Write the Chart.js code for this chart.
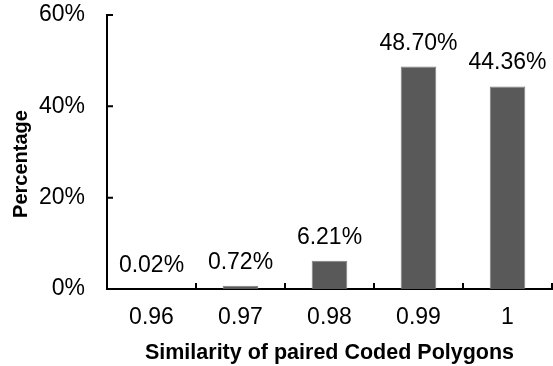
<!DOCTYPE html>
<html>
<head>
<meta charset="utf-8">
<script src="https://cdn.jsdelivr.net/npm/chart.js@4"></script>
<style>
  html, body { margin: 0; padding: 0; background: #fff; }
  #chart { display: block; }
</style>
</head>
<body>
<canvas id="chart" width="553" height="366"></canvas>
<script>
// data
const similarity = ['0.96', '0.97', '0.98', '0.99', '1'];
const percentages = [0.02, 0.72, 6.21, 48.70, 44.36];
const yTicks = [0, 20, 40, 60];
const xTitle = 'Similarity of paired Coded Polygons';
const yTitle = 'Percentage';

const FONT = '"Liberation Sans", Arial, sans-serif';

// value labels above each bar
const barLabels = {
    id: 'barLabels',
    afterDatasetsDraw(chart) {
        const ctx = chart.ctx;
        const meta = chart.getDatasetMeta(0);
        ctx.save();
        ctx.font = '23px ' + FONT;
        ctx.fillStyle = '#000';
        ctx.textAlign = 'center';
        ctx.textBaseline = 'alphabetic';
        meta.data.forEach((bar, i) => {
            ctx.fillText(percentages[i].toFixed(2) + '%', bar.x, bar.y - 17);
        });
        ctx.restore();
    }
};

// short tick marks pointing into the plot, plus the rotated y title
const insideTicks = {
    id: 'insideTicks',
    afterDraw(chart) {
        const ctx = chart.ctx;
        const x = chart.scales.x;
        const y = chart.scales.y;
        const area = chart.chartArea;
        ctx.save();
        ctx.strokeStyle = '#000';
        ctx.lineWidth = 2;
        ctx.beginPath();
        yTicks.forEach(v => {
            const py = y.getPixelForValue(v);
            ctx.moveTo(area.left, py);
            ctx.lineTo(area.left + 6, py);
        });
        for (let i = 0; i <= similarity.length; i++) {
            const px = x.getPixelForValue(i - 0.5);
            ctx.moveTo(px, area.bottom);
            ctx.lineTo(px, area.bottom - 6);
        }
        ctx.stroke();

        ctx.translate(21, 164);
        ctx.rotate(-Math.PI / 2);
        ctx.font = 'bold 20px ' + FONT;
        ctx.fillStyle = '#000';
        ctx.textAlign = 'center';
        ctx.textBaseline = 'middle';
        ctx.fillText(yTitle, 0, 0);
        ctx.restore();
    }
};

new Chart(document.getElementById('chart').getContext('2d'), {
    type: 'bar',
    data: {
        labels: similarity,
        datasets: [{
            data: percentages,
            backgroundColor: '#595959',
            borderColor: '#808080',
            borderWidth: 1,
            barPercentage: 0.4,
            categoryPercentage: 1
        }]
    },
    options: {
        responsive: false,
        animation: false,
        layout: { padding: { top: 15, right: 1, left: 0, bottom: 0 } },
        plugins: {
            legend: { display: false },
            tooltip: { enabled: false }
        },
        scales: {
            x: {
                grid: { display: false, drawTicks: false },
                border: { display: true, color: '#000', width: 2 },
                ticks: {
                    color: '#000',
                    font: { family: FONT, size: 23 },
                    padding: 15
                },
                title: {
                    display: true,
                    text: xTitle,
                    color: '#000',
                    font: { family: FONT, size: 21.5, weight: 'bold' },
                    padding: { top: 0, bottom: 0 }
                },
                afterFit(scale) {
                    scale.height = 77;
                    scale.paddingLeft = 0;
                    scale.paddingRight = 0;
                }
            },
            y: {
                min: 0,
                max: 60,
                grid: { display: false, drawTicks: false },
                border: { display: true, color: '#000', width: 2 },
                afterBuildTicks(scale) {
                    scale.ticks = yTicks.map(v => ({ value: v }));
                },
                ticks: {
                    color: '#000',
                    font: { family: FONT, size: 23 },
                    padding: 22,
                    callback: v => v + '%'
                },
                afterFit(scale) {
                    scale.width = 107;
                    scale.paddingTop = 0;
                    scale.paddingBottom = 0;
                }
            }
        }
    },
    plugins: [barLabels, insideTicks]
});
</script>
</body>
</html>
